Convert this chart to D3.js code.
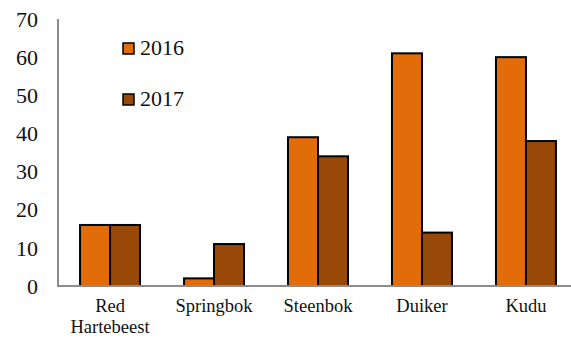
<!DOCTYPE html>
<html>
<head>
<meta charset="utf-8">
<script src="https://cdn.jsdelivr.net/npm/d3@7"></script>
<style>
  html, body { margin: 0; padding: 0; background: #fff; }
  svg { display: block; }
</style>
</head>
<body>
<svg id="chart" width="571" height="339"></svg>
<script>
// Sightings per species
const categories = ["Red Hartebeest", "Springbok", "Steenbok", "Duiker", "Kudu"];
const seriesNames = ["2016", "2017"];
const values2016 = [16, 2, 39, 61, 60];
const values2017 = [16, 11, 34, 14, 38];
const yTicks = [0, 10, 20, 30, 40, 50, 60, 70];
const colors = ["#E36C0A", "#984807"];
const FONT = "Liberation Serif";

const svg = d3.select("#chart");
const margin = { left: 58, top: 19, bottom: 53 };
const plotRight = 578;
const height = 339;

const x0 = d3.scaleBand().domain(categories).range([margin.left, plotRight]).paddingInner(0.423).paddingOuter(0.212);
const x1 = d3.scaleBand().domain(seriesNames).range([0, x0.bandwidth()]);
const y = d3.scaleLinear().domain([0, 70]).range([height - margin.bottom, margin.top]);

const rows = categories.map((c, i) => ({ cat: c, vals: [values2016[i], values2017[i]] }));

// Bars
const groups = svg.append("g").selectAll("g").data(rows).join("g")
  .attr("transform", d => `translate(${x0(d.cat)},0)`);
groups.selectAll("rect").data(d => d.vals.map((v, j) => ({ v, s: seriesNames[j], j })))
  .join("rect")
  .attr("x", d => x1(d.s))
  .attr("y", d => y(d.v))
  .attr("width", x1.bandwidth())
  .attr("height", d => y(0) - y(d.v))
  .attr("fill", d => colors[d.j])
  .attr("stroke", "#000")
  .attr("stroke-width", 2);

// Axes lines
svg.append("line").attr("x1", margin.left).attr("x2", margin.left)
  .attr("y1", y(70)).attr("y2", y(0)).attr("stroke", "#8c8c8c").attr("stroke-width", 2);
svg.append("line").attr("x1", margin.left - 1).attr("x2", 571)
  .attr("y1", y(0)).attr("y2", y(0)).attr("stroke", "#8c8c8c").attr("stroke-width", 2);

// Y tick labels
svg.append("g").selectAll("text").data(yTicks).join("text")
  .attr("x", 38).attr("y", d => y(d)).attr("dy", "0.35em")
  .attr("text-anchor", "end").attr("font-family", FONT).attr("font-size", 22).attr("fill", "#111")
  .text(d => d);

// Category labels (two-word names wrap onto a second line)
const catLabels = svg.append("g").selectAll("text").data(categories).join("text")
  .attr("x", d => x0(d) + x0.bandwidth() / 2)
  .attr("y", 312)
  .attr("text-anchor", "middle").attr("font-family", FONT).attr("font-size", 18.5).attr("fill", "#111");
catLabels.each(function (d) {
  const words = d.split(" ");
  const t = d3.select(this);
  words.forEach((w, i) => {
    t.append("tspan").attr("x", x0(d) + x0.bandwidth() / 2).attr("dy", i === 0 ? 0 : 21).text(w);
  });
});

// Legend
const legend = svg.append("g").selectAll("g").data(seriesNames).join("g")
  .attr("transform", (d, i) => `translate(123, ${43 + i * 51})`);
legend.append("rect").attr("width", 11).attr("height", 11)
  .attr("fill", (d, i) => colors[i]).attr("stroke", "#000").attr("stroke-width", 1.5);
legend.append("text").attr("x", 17).attr("y", 12).attr("font-family", FONT).attr("font-size", 22).attr("fill", "#111").text(d => d);
</script>
</body>
</html>
